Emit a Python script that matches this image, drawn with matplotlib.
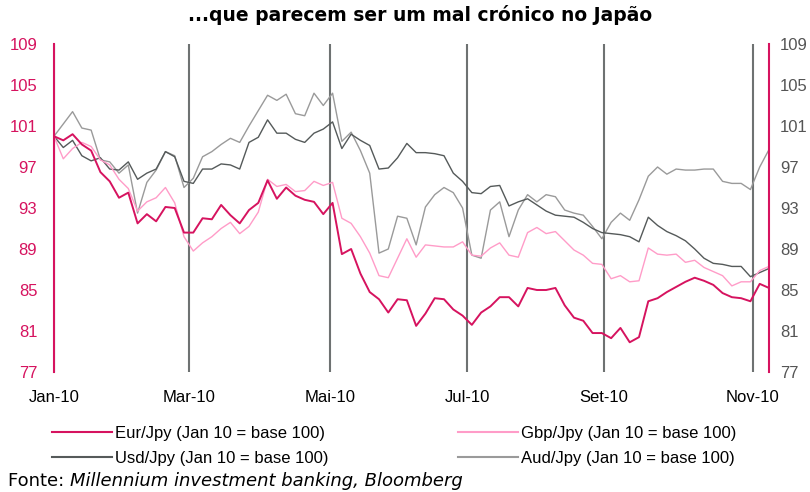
import pandas as pd
import matplotlib.pyplot as plt
from matplotlib.lines import Line2D

# 4-day samples (Jan 10 = base 100)
dates = pd.date_range('2010-01-01', periods=78, freq='4D')

eur = [100.0, 99.6, 100.2, 99.2, 98.6, 96.5, 95.6, 94.0, 94.5, 91.5,
       92.4, 91.7, 93.1, 93.0, 90.6, 90.6, 92.0, 91.9, 93.3, 92.3,
       91.5, 92.8, 93.5, 95.7, 93.9, 95.0, 94.2, 93.8, 93.6, 92.4,
       93.5, 88.5, 89.0, 86.6, 84.8, 84.1, 82.8, 84.1, 84.0, 81.5,
       82.7, 84.2, 84.1, 83.1, 82.5, 81.6, 82.8, 83.4, 84.3, 84.3,
       83.4, 85.2, 85.0, 85.0, 85.2, 83.5, 82.3, 82.0, 80.8, 80.8,
       80.3, 81.3, 79.9, 80.4, 83.9, 84.2, 84.8, 85.3, 85.8, 86.2,
       85.9, 85.5, 84.7, 84.3, 84.2, 83.9, 85.6, 85.2]

gbp = [100.0, 97.8, 98.8, 99.4, 99.0, 97.7, 97.2, 95.8, 94.9, 92.7,
       93.6, 94.0, 95.0, 93.5, 90.2, 88.8, 89.6, 90.2, 91.0, 91.6,
       90.5, 91.2, 92.6, 95.8, 95.1, 95.3, 94.6, 94.7, 95.6, 95.2,
       95.5, 92.0, 91.5, 90.2, 88.6, 86.4, 86.2, 88.1, 90.0, 88.2,
       89.4, 89.3, 89.2, 89.2, 89.7, 88.4, 88.3, 89.1, 89.6, 88.4,
       88.2, 90.6, 91.1, 90.5, 90.7, 89.8, 88.9, 88.4, 87.6, 87.5,
       86.1, 86.4, 85.8, 85.9, 89.1, 88.5, 88.4, 88.5, 87.7, 87.9,
       87.2, 86.8, 86.4, 85.4, 85.8, 85.8, 86.9, 87.3]

usd = [100.0, 98.9, 99.6, 98.1, 97.6, 97.9, 96.8, 96.7, 97.5, 95.8,
       96.4, 96.8, 98.5, 98.0, 95.6, 95.4, 96.8, 96.8, 97.3, 97.2,
       96.8, 99.4, 99.9, 101.6, 100.3, 100.3, 99.7, 99.4, 100.3, 100.7,
       101.4, 98.8, 100.2, 99.6, 99.1, 96.8, 96.9, 97.9, 99.3, 98.4,
       98.4, 98.3, 98.1, 96.4, 95.6, 94.5, 94.4, 95.1, 95.2, 93.2,
       93.6, 93.9, 93.3, 92.7, 92.3, 92.2, 92.1, 91.6, 91.0, 90.6,
       90.5, 90.4, 90.2, 89.7, 92.1, 91.3, 90.7, 90.3, 89.8, 89.0,
       88.1, 87.6, 87.5, 87.3, 87.3, 86.3, 86.7, 87.1]

aud = [100.0, 101.2, 102.4, 100.8, 100.6, 97.7, 97.5, 96.4, 97.2, 92.5,
       95.5, 96.7, 98.5, 98.1, 95.0, 95.9, 98.0, 98.5, 99.2, 99.8,
       99.4, 101.0, 102.5, 104.0, 103.5, 104.1, 102.2, 102.0, 104.2, 103.0,
       104.2, 99.5, 100.4, 98.6, 96.4, 88.6, 89.0, 92.2, 92.0, 89.4,
       93.1, 94.3, 95.0, 94.5, 93.0, 88.4, 88.1, 92.8, 93.6, 90.2,
       92.8, 94.3, 93.6, 94.3, 94.1, 92.8, 92.5, 92.3, 91.2, 90.0,
       91.6, 92.5, 91.8, 93.8, 96.1, 97.0, 96.3, 96.8, 96.7, 96.7,
       96.8, 96.8, 95.6, 95.4, 95.4, 94.8, 97.0, 98.7]

labels = ['Eur/Jpy (Jan 10 = base 100)', 'Gbp/Jpy (Jan 10 = base 100)',
          'Usd/Jpy (Jan 10 = base 100)', 'Aud/Jpy (Jan 10 = base 100)']

tick_dates = pd.to_datetime(['2010-01-01', '2010-02-28', '2010-04-30',
                             '2010-06-28', '2010-08-26', '2010-10-29'])
tick_labels = ['Jan-10', 'Mar-10', 'Mai-10', 'Jul-10', 'Set-10', 'Nov-10']
y_ticks = list(range(77, 110, 4))

MAGENTA = '#d6135f'
PINK = '#ff9cc8'
DARK = '#555a5a'
LIGHT = '#9a9a9a'
GRID = '#6e7272'

plt.rcParams['font.family'] = ['Liberation Sans', 'DejaVu Sans']

fig = plt.figure(figsize=(8.1, 4.92), dpi=100)
ax = fig.add_axes([54 / 810, 1 - 372 / 492, 715 / 810, 328 / 492])

ax.plot(dates, aud, color=LIGHT, lw=1.0)
ax.plot(dates, usd, color=DARK, lw=1.0)
ax.plot(dates, gbp, color=PINK, lw=1.0)
ax.plot(dates, eur, color=MAGENTA, lw=1.4)

ax.set_xlim(dates[0], dates[-1])
ax.set_ylim(77, 109)
ax.set_xticks(tick_dates)
ax.set_xticklabels(tick_labels)
ax.set_yticks(y_ticks)
ax.grid(axis='x', color=GRID, lw=1.5)
ax.set_axisbelow(True)
ax.tick_params(axis='x', length=0, pad=13, labelsize=12, colors='black')
ax.tick_params(axis='y', length=0, pad=12, labelsize=12, labelcolor=MAGENTA)

for side in ['top', 'bottom']:
    ax.spines[side].set_visible(False)
for side in ['left', 'right']:
    ax.spines[side].set_color(MAGENTA)
    ax.spines[side].set_linewidth(1.5)

ax2 = ax.twinx()
ax2.set_ylim(77, 109)
ax2.set_yticks(y_ticks)
ax2.tick_params(axis='y', length=0, pad=8, labelsize=12, labelcolor='#555555')
for side in ['top', 'bottom', 'left', 'right']:
    ax2.spines[side].set_visible(False)

fig.text(0.518, 1 - 15 / 492, '...que parecem ser um mal crónico no Japão',
         ha='center', va='center', fontsize=13.5, fontweight='bold',
         family=['DejaVu Sans'])

h_eur = Line2D([], [], color=MAGENTA, lw=1.5)
h_gbp = Line2D([], [], color=PINK, lw=1.5)
h_usd = Line2D([], [], color=DARK, lw=1.5)
h_aud = Line2D([], [], color=LIGHT, lw=1.5)
leg_kw = dict(loc='upper left', frameon=False, fontsize=12, handlelength=3.6,
              handletextpad=0.2, borderpad=0, borderaxespad=0, labelspacing=0.58)
fig.legend([h_eur, h_usd], [labels[0], labels[2]],
           bbox_to_anchor=(52 / 810, 1 - 426 / 492), **leg_kw)
fig.legend([h_gbp, h_aud], [labels[1], labels[3]],
           bbox_to_anchor=(458 / 810, 1 - 426 / 492), **leg_kw)

src = fig.text(8 / 810, 1 - 481 / 492, 'Fonte: ', ha='left', va='center',
               fontsize=13, family=['DejaVu Sans'])
fig.canvas.draw()
bb = src.get_window_extent().transformed(fig.transFigure.inverted())
fig.text(bb.x1, 1 - 481 / 492, 'Millennium investment banking, Bloomberg',
         ha='left', va='center', fontsize=13, style='italic',
         family=['DejaVu Sans'])

fig.savefig('out.png', dpi=100)
